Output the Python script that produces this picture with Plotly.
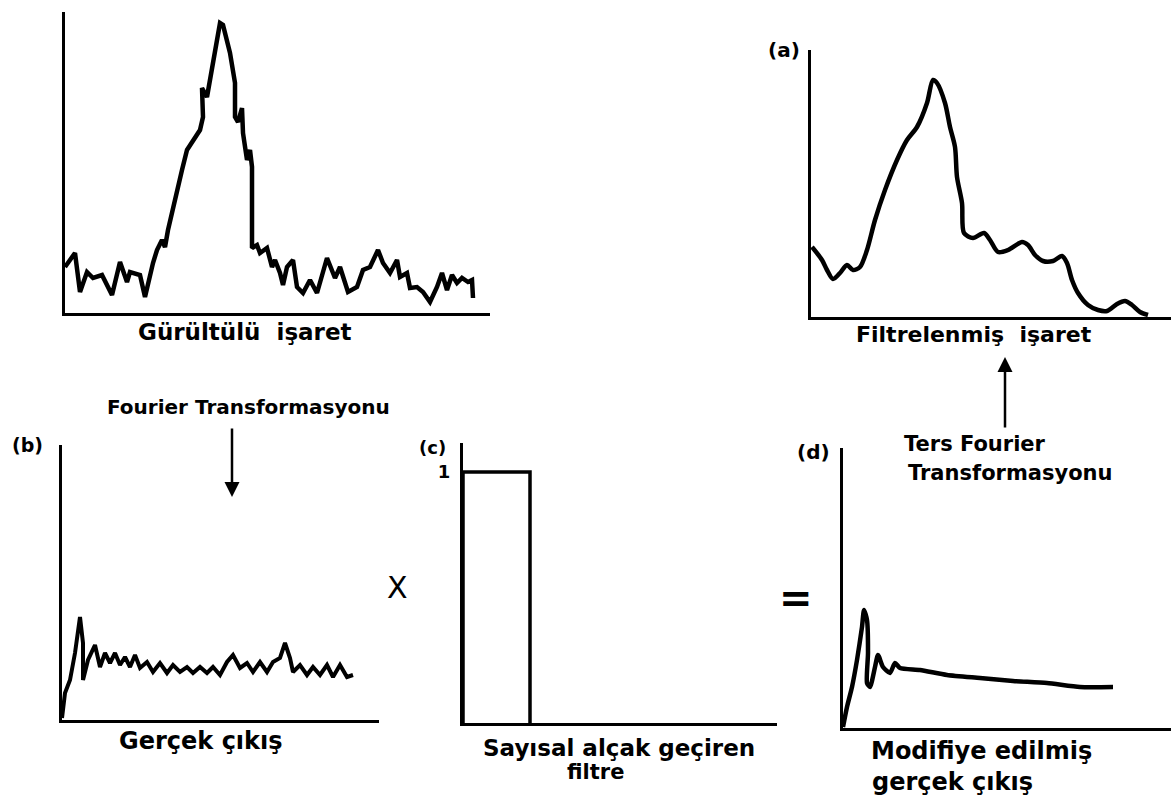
import plotly.graph_objects as go

W, H = 1171, 803

# ---- data (arbitrary units) ----
noisy_t = [0, 10, 15, 22, 28, 37, 47, 55, 62, 65, 75, 80, 88, 92, 97, 100, 103, 108, 112, 117,
           122, 128, 135, 138, 137, 142, 148, 155, 158, 165, 170, 170, 173, 177, 178, 182, 185,
           187, 187, 192, 195, 202, 207, 210, 215, 218, 222, 228, 232, 238, 245, 252, 262, 267,
           270, 275, 283, 292, 298, 305, 313, 318, 325, 332, 335, 342, 345, 352, 358, 365, 372,
           377, 382, 387, 392, 397, 403, 407, 408]
noisy_y = [46, 60, 21, 41, 35, 38, 18, 51, 31, 41, 38, 16, 50, 63, 73, 66, 83, 106, 123, 143,
           163, 173, 183, 196, 225, 216, 253, 290, 288, 260, 230, 196, 191, 205, 180, 153, 163,
           146, 65, 68, 60, 65, 46, 53, 40, 28, 46, 53, 26, 20, 33, 20, 55, 41,
           35, 46, 21, 26, 43, 46, 63, 50, 40, 53, 36, 40, 25, 26, 21, 11, 26,
           40, 23, 38, 30, 35, 31, 33, 15]

filt_t = [1, 11, 16, 22, 29, 36, 42, 49, 56, 64, 74, 86, 96, 106, 116, 122, 126, 134, 139, 144,
          146, 151, 153, 162, 173, 179, 187, 197, 211, 217, 224, 232, 242, 251, 256, 261, 267,
          277, 287, 296, 306, 314, 321, 329, 337]
filt_y = [70, 57, 47, 38, 44, 52, 47, 50, 67, 97, 127, 157, 177, 190, 214, 237, 234, 214, 190, 170,
          140, 114, 84, 79, 84, 77, 65, 67, 75, 72, 62, 56, 56, 61, 54, 37, 24,
          12, 7, 6, 13, 16, 12, 5, 2]

spec_f = [0, 3, 8, 13, 18, 21, 21, 26, 33, 38, 43, 48, 53, 58, 63, 68, 73, 78, 85, 91, 98, 105,
          111, 118, 125, 131, 138, 145, 151, 158, 165, 171, 178, 185, 191, 198, 205, 211, 218,
          223, 228, 231, 238, 245, 251, 258, 265, 271, 278, 285, 291]
spec_y = [2, 27, 40, 67, 103, 77, 40, 60, 75, 53, 67, 57, 67, 55, 63, 53, 65, 52, 58, 48, 57, 47,
          55, 48, 53, 47, 53, 47, 53, 45, 58, 65, 52, 57, 48, 58, 48, 58, 62,
          77, 62, 48, 55, 45, 53, 45, 55, 43, 55, 43, 45]

lp_f = [0, 0, 67, 67]
lp_y = [0, 1, 1, 0]

mod_f = [0, 4, 9, 14, 19, 21, 24, 25, 24, 27, 32, 35, 40, 47, 52, 57, 77, 104, 137, 170, 204, 237, 270]
mod_y = [1, 21, 41, 68, 101, 118, 108, 75, 45, 41, 61, 73, 61, 55, 65, 60, 58, 53, 50, 47, 45, 41, 41]


def px(x):
    return x / W


def py(y):
    return 1 - y / H


fig = go.Figure()

fig.add_trace(go.Scatter(x=noisy_t, y=noisy_y, mode="lines", line=dict(color="black", width=4.5), xaxis="x", yaxis="y"))
fig.add_trace(go.Scatter(x=filt_t, y=filt_y, mode="lines", line=dict(color="black", width=4.5, shape="spline", smoothing=0.8), xaxis="x2", yaxis="y2"))
fig.add_trace(go.Scatter(x=spec_f, y=spec_y, mode="lines", line=dict(color="black", width=4), xaxis="x3", yaxis="y3"))
fig.add_trace(go.Scatter(x=lp_f, y=lp_y, mode="lines", line=dict(color="black", width=3.5), xaxis="x4", yaxis="y4"))
fig.add_trace(go.Scatter(x=mod_f, y=mod_y, mode="lines", line=dict(color="black", width=4.5, shape="spline", smoothing=0.6), xaxis="x5", yaxis="y5"))

panels = [
    # (suffix, x0px, x1px, ytop_px, ybottom_px, xrange, yrange)
    ("", 65, 490, 12, 313, [0, 425], [0, 301]),
    ("2", 811, 1171, 50, 317, [0, 360], [0, 267]),
    ("3", 62, 379, 445, 720, [0, 317], [0, 275]),
    ("4", 463, 777, 443, 723, [0, 314], [0, 1.116]),
    ("5", 843, 1171, 448, 728, [0, 328], [0, 280]),
]

ax_common = dict(showgrid=False, zeroline=False, showline=True, linecolor="black", linewidth=3,
                 ticks="", showticklabels=False, fixedrange=True)
for suf, x0, x1, yt, yb, xr, yr in panels:
    xa = dict(ax_common, domain=[px(x0), px(x1)], range=xr, anchor="y" + suf)
    ya = dict(ax_common, domain=[py(yb), py(yt)], range=yr, anchor="x" + suf)
    if suf == "4":
        ya.update(showticklabels=True, tickvals=[1], ticktext=["1"], ticklabelstandoff=6,
                  tickfont=dict(family="DejaVu Sans", size=18, color="black", weight="bold"))
    fig.layout["xaxis" + suf] = xa
    fig.layout["yaxis" + suf] = ya

BOLD = "DejaVu Sans"


def label(text, x, y, size=23, weight="bold", xanchor="center"):
    fig.add_annotation(text=text, x=px(x), y=py(y), xref="paper", yref="paper", showarrow=False,
                       xanchor=xanchor, yanchor="middle",
                       font=dict(family=BOLD, size=size, color="black", weight=weight))


label("Gürültülü  işaret", 245, 332)
label("Filtrelenmiş  işaret", 974, 334, size=22)
label("Fourier Transformasyonu", 248, 407, size=20)
label("Gerçek çıkış", 201, 741, size=24)
label("Sayısal alçak geçiren", 619, 748, size=23)
label("filtre", 595, 772, size=21)
label("Modifiye edilmiş", 981, 751, size=24)
label("gerçek çıkış", 952, 782, size=24)
label("Ters Fourier", 975, 444, size=21)
label("Transformasyonu", 1010, 473, size=21)
label("(a)", 784, 50, size=20)
label("(b)", 28, 445, size=19)
label("(c)", 432, 447, size=18)
label("(d)", 813, 452, size=20)
label("X", 397, 587, size=30, weight="normal")
label("=", 796, 598, size=40)

# arrows
fig.add_annotation(x=px(232), y=py(497), xref="paper", yref="paper", text="", showarrow=True,
                   ax=0, ay=-70, arrowhead=2, arrowsize=1.2, arrowwidth=2.5, arrowcolor="black")
fig.add_annotation(x=px(1005), y=py(357), xref="paper", yref="paper", text="", showarrow=True,
                   ax=0, ay=72, arrowhead=2, arrowsize=1.2, arrowwidth=2.5, arrowcolor="black")

fig.update_layout(width=W, height=H, margin=dict(l=0, r=0, t=0, b=0),
                  paper_bgcolor="white", plot_bgcolor="white", showlegend=False)

fig.write_html("out.html", config={"displayModeBar": False})
